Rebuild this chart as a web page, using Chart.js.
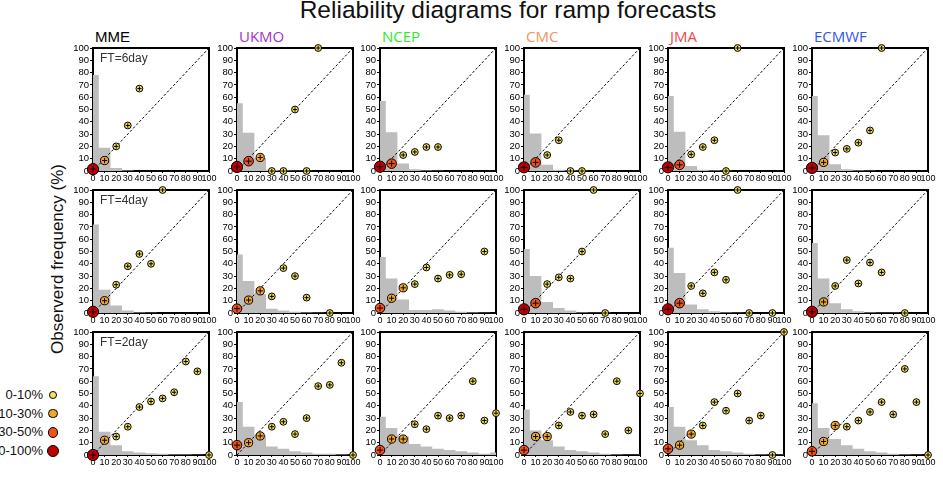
<!DOCTYPE html>
<html><head><meta charset="utf-8">
<script src="https://cdn.jsdelivr.net/npm/chart.js@4.4.0/dist/chart.umd.min.js"></script>
<style>
body{margin:0;background:#fff;width:943px;height:484px;overflow:hidden;position:relative;font-family:"Liberation Sans",Arial,sans-serif;}
.abs{position:absolute;white-space:nowrap;line-height:1;}
canvas{position:absolute;}
</style></head><body>
<script>
// ---------------- data ----------------
const TITLE = 'Reliability diagrams for ramp forecasts';
const Y_TITLE = 'Observerd frequency (%)';
const MODELS = ['MME','UKMO','NCEP','CMC','JMA','ECMWF'];
const MODEL_COLORS = ['#000000','#a333cc','#2ee82e','#f0965a','#f04a4a','#3355ee'];
const LEADS = ['FT=6day','FT=4day','FT=2day'];
const BINS = [0,10,20,30,40,50,60,70,80,90,100];
const TICKS = [0,10,20,30,40,50,60,70,80,90,100];
const CAT_LABELS = ['0-10%','10-30%','30-50%','50-100%'];
const CAT_EDGES = [10,30,50];
const CAT_COLORS = ['#f3e35a','#f3a52a','#f0501a','#c00000'];

// forecast frequency histograms (%), per model, bins 0..100
const HIST_FT6 = [
  [78,19,2.5,0.5,0,0,0,0,0,0,0],
  [55,31,10.5,1,0.5,0.3,0.2,0.1,0,0,0],
  [57,31.5,6,1.5,0.5,0.3,0,0,0,0,0],
  [62,30.5,5,1,0.5,0.2,0,0,0,0,0],
  [61,32,4,1,0.5,0.2,0.1,0,0,0,0],
  [61,29,5.5,1.5,0.5,0.2,0.1,0,0,0,0]
];
const OBS_FT6 = [
  [1.5,8.5,20,37,67,null,null,null,null,null,null],
  [3.3,8,11,0,0,50,0,100,null,null,null],
  [3.5,6,13,15.5,19.5,19.5,null,null,null,null,null],
  [3,7,13,25,0,0,null,null,null,null,null],
  [3,5,13.5,19.5,25,0,100,null,null,null,null],
  [2.5,7,15,18,23,33,100,null,null,null,null]
];
const HIST_FT4 = [
  [72,19,6,2,0.5,0.3,0.1,0,0,0,0],
  [47.5,26,15.5,3.5,2,1,0.5,0.2,0.1,0,0],
  [45.5,28,11,2.5,2.5,3,2,1,0.5,0.3,0],
  [52,30,9,4,2,0.5,0.3,0.2,0,0,0],
  [53,32.5,7,3,1.5,0.5,0.2,0.1,0,0.1,0],
  [57,28,8,3,1.5,0.5,0.3,0.2,0.1,0,0]
];
const OBS_FT4 = [
  [1,10,23,38,48,40,100,null,null,null,null],
  [3.5,10.5,18,13.5,36.5,30,12.5,null,0,null,null],
  [4,12,20.5,23.5,37,28,31,31.5,null,50,null],
  [3,8,23.5,29,28,50,100,0,null,null,null],
  [3,8,22,16,33,27,100,0,null,0,null],
  [1,9,22,43,24,41,33,null,0,null,null]
];
const HIST_FT2 = [
  [64,19,8,3,2,1.5,1,0.5,0.5,0.3,0.1],
  [43,23,16,7,5,3,2,1,1,0.5,0.2],
  [31,22,15,9,7,5,4,3,2,1,2],
  [37,20,12,7,4,3,2,1,0.5,0.3,0.2],
  [39,23,12,8,4,3,2,1,0.5,0.3,0.2],
  [42,22,13,8,5,3,2,1,0.5,0.3,0.1]
];
const OBS_FT2 = [
  [0,12,15,23,39,43.5,46,51,76,68,0],
  [8,10,15.5,23,27,17,30,56,57,75,0],
  [4,13,13,25,21,32,30,32,60,28,34],
  [4,15,15,24,35,32,33,17,60,20,50],
  [5,8,17,24,43,36,50,28,32,0,100],
  [3,11,24,23,28,35,43,33,70,43,0]
];
const HISTS = [HIST_FT6, HIST_FT4, HIST_FT2];
const OBSS = [OBS_FT6, OBS_FT4, OBS_FT2];

// ---------------- layout ----------------
const COL_LEFT = [93,237,380,524,668,812];
const ROW_TOP = [48,190,332];
const PW = 116, PH = 123;
const PAD_L = 4, Y_W = 22, PAD_T = 8, PAD_R = 12, X_H = 14, PAD_B = 2;
const RADII = [3.4,4.1,4.8,5.6];
const CROSS = [2.2,2.6,3.0,3.4];
const FONT = '"Liberation Sans", Arial, sans-serif';

function el(cls, text, css){
  const d = document.createElement('div');
  d.className = 'abs'; d.textContent = text; Object.assign(d.style, css);
  document.body.appendChild(d); return d;
}
el('abs', TITLE, {left:'0px', width:'1016px', textAlign:'center', top:'-2px', fontSize:'24.5px', color:'#111'});
el('abs', Y_TITLE, {left:'57px', top:'259px', fontSize:'17px', color:'#111', transform:'translate(-50%,-50%) rotate(-90deg)'});
MODELS.forEach((m,i)=>{
  el('abs', m, {left:(COL_LEFT[i]+2)+'px', top:'29px', fontSize:'15px', color:MODEL_COLORS[i],
    fontFamily: i===0 ? FONT : '"Open Sans", sans-serif'});
});
CAT_LABELS.forEach((t,i)=>{
  const cy = 395 + i*18.7;
  el('abs', t, {right:(943-43)+'px', top:(cy-7)+'px', fontSize:'13px', color:'#111'});
  const r = RADII[i]+0.5;
  const c = document.createElement('div');
  Object.assign(c.style,{position:'absolute', left:(53-r)+'px', top:(cy-r)+'px', width:(2*r-2)+'px', height:(2*r-2)+'px',
    borderRadius:'50%', border:'1px solid #000', background:CAT_COLORS[i]});
  document.body.appendChild(c);
});

function catOf(h){ let c=0; CAT_EDGES.forEach(e=>{ if(h>=e) c++; }); return c; }

const frame = {
  id:'frame',
  beforeDatasetsDraw(chart){
    const a = chart.chartArea, ctx = chart.ctx;
    ctx.save(); ctx.strokeStyle='#000'; ctx.lineWidth=2;
    ctx.strokeRect(a.left, a.top, a.right-a.left, a.bottom-a.top);
    ctx.restore();
  }
};

for(let r=0;r<3;r++){
  for(let c=0;c<6;c++){
    const hist = HISTS[r][c], obs = OBSS[r][c];
    const cv = document.createElement('canvas');
    const w = PAD_L+Y_W+PW+PAD_R, h = PAD_T+PH+X_H+PAD_B;
    cv.width = w; cv.height = h;
    cv.style.left = (COL_LEFT[c]-PAD_L-Y_W)+'px'; cv.style.top = (ROW_TOP[r]-PAD_T)+'px';
    document.body.appendChild(cv);
    // histogram step outline: bar i covers [BINS[i]-5, BINS[i]+5] clipped to [0,100]
    const step = [];
    BINS.forEach((b,i)=>{ step.push({x: Math.max(0,b-5), y: hist[i]}); });
    step.push({x:100, y:hist[hist.length-1]});
    const pts = [];
    BINS.forEach((b,i)=>{ if(obs[i]!==null) pts.push({x:b, y:obs[i], cat:catOf(hist[i])}); });
    new Chart(cv, {
      type:'scatter',
      data:{datasets:[
        {data:pts, pointStyle:'cross', radius:ctx=>CROSS[ctx.raw.cat], borderColor:'#000', borderWidth:1, clip:false},
        {data:pts, pointStyle:'circle', radius:ctx=>RADII[ctx.raw.cat], backgroundColor:ctx=>CAT_COLORS[ctx.raw.cat], borderColor:'#000', borderWidth:1, clip:false},
        {type:'line', data:[{x:0,y:0},{x:100,y:100}], borderColor:'#000', borderWidth:1, borderDash:[2.5,2], pointRadius:0, fill:false},
        {type:'line', data:step, stepped:'before', borderWidth:0, borderColor:'rgba(0,0,0,0)', backgroundColor:'#bdbdbd', fill:'origin', pointRadius:0}
      ]},
      options:{
        responsive:false, animation:false, events:[], devicePixelRatio:1,
        layout:{padding:{left:PAD_L, top:PAD_T, right:PAD_R, bottom:PAD_B}},
        plugins:{legend:{display:false}, tooltip:{enabled:false}},
        scales:{
          x:{type:'linear', min:0, max:100, afterFit:s=>{s.height=X_H;},
             afterBuildTicks:s=>{s.ticks=TICKS.map(v=>({value:v}));},
             border:{display:false},
             grid:{drawOnChartArea:false, drawTicks:true, tickLength:2, color:'#000'},
             ticks:{autoSkip:false, maxRotation:0, minRotation:0, padding:0, color:'#000', font:{family:FONT, size:9}}},
          y:{type:'linear', min:0, max:100, afterFit:s=>{s.width=Y_W;},
             afterBuildTicks:s=>{s.ticks=TICKS.map(v=>({value:v}));},
             border:{display:false},
             grid:{drawOnChartArea:false, drawTicks:true, tickLength:3, color:'#000'},
             ticks:{autoSkip:false, padding:1, color:'#000', font:{family:FONT, size:9.5}}}
        }
      },
      plugins:[frame, {id:'ft', afterDraw(chart){
        if(c!==0) return;
        const a=chart.chartArea, ctx=chart.ctx;
        ctx.save(); ctx.fillStyle='#333'; ctx.font='12px '+FONT; ctx.textBaseline='top';
        ctx.fillText(LEADS[r], a.left+7, a.top+5); ctx.restore();
      }}]
    });
  }
}
</script>
</body></html>
